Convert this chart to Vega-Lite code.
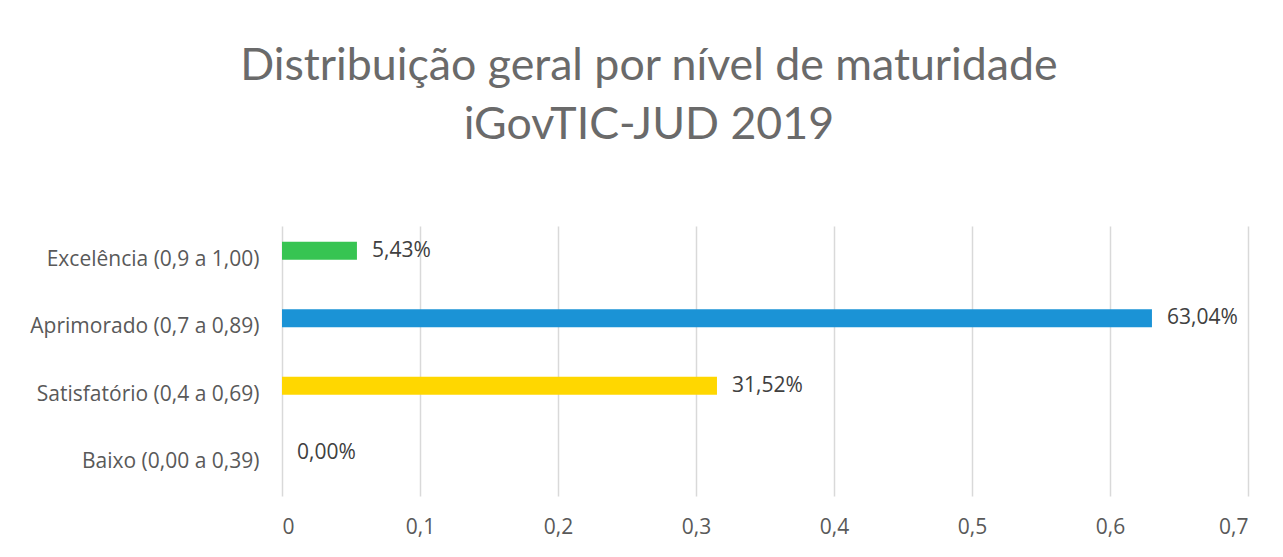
{
  "$schema": "https://vega.github.io/schema/vega-lite/v6.json",
  "autosize": {"type": "none"},
  "width": 966,
  "height": 270,
  "padding": {"left": 282, "top": 226, "right": 35, "bottom": 61},
  "background": "white",
  "config": {
    "locale": {"number": {"decimal": ",", "thousands": ".", "grouping": [3], "currency": ["R$", ""]}},
    "view": {"stroke": null},
    "font": "Open Sans"
  },
  "title": {
    "text": ["Distribuição geral por nível de maturidade", "iGovTIC-JUD 2019"],
    "fontSize": 44.7,
    "font": "Lato",
    "fontWeight": "normal",
    "color": "#6A6A6A",
    "anchor": "middle",
    "frame": "bounds",
    "lineHeight": 59,
    "offset": 77,
    "dx": 10
  },
  "data": {
    "values": [
      {"nivel": "Excelência (0,9 a 1,00)", "valor": 0.0543, "cor": "#37C452"},
      {"nivel": "Aprimorado (0,7 a 0,89)", "valor": 0.6304, "cor": "#1B93D6"},
      {"nivel": "Satisfatório (0,4 a 0,69)", "valor": 0.3152, "cor": "#FFD700"},
      {"nivel": "Baixo (0,00 a 0,39)", "valor": 0.0, "cor": "#A5A5A5"}
    ]
  },
  "encoding": {
    "y": {
      "field": "nivel",
      "type": "nominal",
      "sort": null,
      "title": null,
      "scale": {"paddingInner": 0, "paddingOuter": 0},
      "axis": {
        "domain": false,
        "ticks": false,
        "labelFontSize": 21,
        "labelColor": "#595959",
        "labelPadding": 23,
        "labelFont": "Open Sans",
        "labelLimit": 400
      }
    },
    "x": {
      "field": "valor",
      "type": "quantitative",
      "title": null,
      "scale": {"domain": [0, 0.7], "nice": false},
      "axis": {
        "values": [0, 0.1, 0.2, 0.3, 0.4, 0.5, 0.6, 0.7],
        "format": "~g",
        "domain": false,
        "ticks": false,
        "grid": true,
        "gridColor": "#D9D9D9",
        "gridWidth": 1.5,
        "labelFontSize": 21,
        "labelColor": "#595959",
        "labelPadding": 20,
        "labelFont": "Open Sans"
      }
    }
  },
  "layer": [
    {
      "mark": {"type": "bar", "height": 18, "yOffset": -9},
      "encoding": {
        "color": {"field": "cor", "type": "nominal", "scale": null, "legend": null}
      }
    },
    {
      "mark": {"type": "text", "align": "left", "baseline": "middle", "dx": 15, "yOffset": -9, "fontSize": 21, "color": "#404040", "font": "Open Sans"},
      "encoding": {
        "text": {"field": "valor", "type": "quantitative", "format": ".2%"}
      }
    }
  ]
}
